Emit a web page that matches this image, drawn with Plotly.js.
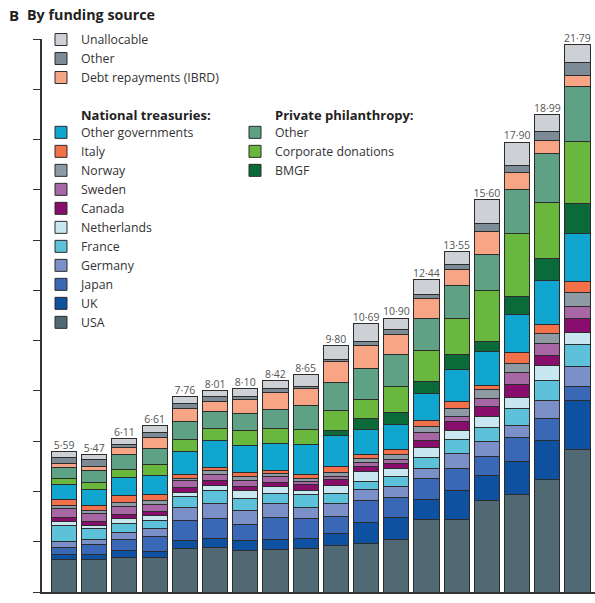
<!DOCTYPE html>
<html>
<head>
<meta charset="utf-8">
<script src="https://cdn.plot.ly/plotly-3.0.1.min.js"></script>
<style>
  html, body { margin: 0; padding: 0; background: #fff; }
  #chart { width: 595px; height: 603px; }
</style>
</head>
<body>
<div id="chart"></div>
<script>
// Development assistance for health, by funding source (US$ billions)
const years = [1990, 1991, 1992, 1993, 1994, 1995, 1996, 1997, 1998, 1999,
               2000, 2001, 2002, 2003, 2004, 2005, 2006, 2007];
const totals = [5.59, 5.47, 6.11, 6.61, 7.76, 8.01, 8.10, 8.42, 8.65, 9.80,
                10.69, 10.90, 12.44, 13.55, 15.60, 17.90, 18.99, 21.79];

// National treasuries
const usa         = [1.29, 1.29, 1.38, 1.36, 1.73, 1.77, 1.64, 1.68, 1.72, 1.87, 1.94, 2.10, 2.87, 2.87, 3.64, 3.89, 4.46, 5.68];
const uk          = [0.20, 0.20, 0.27, 0.26, 0.32, 0.37, 0.39, 0.41, 0.42, 0.45, 0.81, 0.87, 0.83, 1.16, 0.98, 1.32, 1.56, 1.93];
const japan       = [0.30, 0.40, 0.44, 0.57, 0.79, 0.79, 0.64, 0.88, 0.77, 0.68, 0.91, 0.80, 0.82, 0.89, 0.76, 0.93, 0.89, 0.58];
const germany     = [0.20, 0.20, 0.29, 0.32, 0.52, 0.59, 0.59, 0.56, 0.47, 0.53, 0.40, 0.42, 0.41, 0.60, 0.60, 0.49, 0.72, 0.80];
const france      = [0.67, 0.43, 0.33, 0.34, 0.42, 0.50, 0.47, 0.40, 0.48, 0.40, 0.33, 0.40, 0.43, 0.53, 0.57, 0.66, 0.80, 0.86];
const netherlands = [0.13, 0.12, 0.20, 0.18, 0.17, 0.21, 0.29, 0.26, 0.19, 0.30, 0.40, 0.33, 0.39, 0.39, 0.42, 0.46, 0.57, 0.46];
const canada      = [0.17, 0.17, 0.17, 0.18, 0.19, 0.20, 0.17, 0.16, 0.23, 0.23, 0.22, 0.21, 0.27, 0.33, 0.40, 0.51, 0.42, 0.57];
const sweden      = [0.36, 0.32, 0.34, 0.28, 0.28, 0.25, 0.25, 0.24, 0.11, 0.14, 0.16, 0.15, 0.32, 0.23, 0.33, 0.46, 0.47, 0.49];
const norway      = [0.13, 0.10, 0.14, 0.17, 0.09, 0.16, 0.15, 0.13, 0.13, 0.17, 0.15, 0.20, 0.24, 0.30, 0.36, 0.37, 0.39, 0.53];
const italy       = [0.25, 0.23, 0.26, 0.20, 0.16, 0.12, 0.16, 0.13, 0.14, 0.22, 0.16, 0.20, 0.23, 0.27, 0.17, 0.43, 0.38, 0.44];
const otherGovts  = [0.57, 0.61, 0.72, 0.78, 0.93, 1.06, 1.08, 1.06, 1.19, 1.22, 0.99, 0.99, 1.09, 1.28, 1.33, 1.52, 1.72, 1.94];

// Private philanthropy
const bmgf        = [0, 0, 0, 0, 0, 0, 0, 0, 0, 0.23, 0.44, 0.46, 0.49, 0.60, 0.39, 0.73, 0.87, 1.17];
const corporate   = [0.25, 0.28, 0.33, 0.44, 0.47, 0.48, 0.60, 0.60, 0.62, 0.80, 0.73, 1.04, 1.23, 1.43, 2.06, 2.50, 2.23, 2.49];
const otherPhil   = [0.45, 0.48, 0.61, 0.64, 0.70, 0.67, 0.68, 0.75, 0.93, 1.08, 1.27, 1.29, 1.26, 1.33, 1.43, 1.74, 1.96, 2.17];

// Remaining sources
const debtIBRD    = [0.15, 0.16, 0.25, 0.43, 0.52, 0.40, 0.53, 0.67, 0.70, 0.84, 0.91, 0.80, 0.78, 0.62, 0.92, 0.69, 0.53, 0.44];
const otherSrc    = [0.24, 0.27, 0.13, 0.21, 0.20, 0.20, 0.14, 0.16, 0.08, 0.10, 0.16, 0.17, 0.16, 0.18, 0.30, 0.26, 0.35, 0.53];
const unallocable = [0.23, 0.21, 0.25, 0.25, 0.27, 0.24, 0.32, 0.33, 0.47, 0.54, 0.71, 0.47, 0.62, 0.54, 0.94, 0.94, 0.67, 0.71];

// Stack order, bottom to top
const series = [
  { name: 'USA',                    values: usa,         color: '#506973', legend: 'legend2' },
  { name: 'UK',                     values: uk,          color: '#0d51a0', legend: 'legend2' },
  { name: 'Japan',                  values: japan,       color: '#3a68b6', legend: 'legend2' },
  { name: 'Germany',                values: germany,     color: '#7b90c9', legend: 'legend2' },
  { name: 'France',                 values: france,      color: '#5cc1d9', legend: 'legend2' },
  { name: 'Netherlands',            values: netherlands, color: '#c8e7f1', legend: 'legend2' },
  { name: 'Canada',                 values: canada,      color: '#880d6c', legend: 'legend2' },
  { name: 'Sweden',                 values: sweden,      color: '#a766a4', legend: 'legend2' },
  { name: 'Norway',                 values: norway,      color: '#8e9ba4', legend: 'legend2' },
  { name: 'Italy',                  values: italy,       color: '#f2714a', legend: 'legend2' },
  { name: 'Other governments',      values: otherGovts,  color: '#10a6d0', legend: 'legend2' },
  { name: 'BMGF',                   values: bmgf,        color: '#0b6a3a', legend: 'legend3' },
  { name: 'Corporate donations',    values: corporate,   color: '#69b73d', legend: 'legend3' },
  { name: 'Other',                  values: otherPhil,   color: '#5fa184', legend: 'legend3' },
  { name: 'Debt repayments (IBRD)', values: debtIBRD,    color: '#f8a586', legend: 'legend' },
  { name: 'Other',                  values: otherSrc,    color: '#7c8b95', legend: 'legend' },
  { name: 'Unallocable',            values: unallocable, color: '#cdd1d6', legend: 'legend' }
];

const traces = series.map(s => ({
  type: 'bar',
  x: years,
  y: s.values,
  name: s.name,
  legend: s.legend,
  marker: { color: s.color, line: { color: '#2c2c2c', width: 1 } },
  hovertemplate: s.name + ': %{y:.2f}<extra></extra>'
}));

// Totals written above each bar
traces.push({
  type: 'scatter',
  mode: 'text',
  x: years,
  y: totals,
  text: totals.map(v => v.toFixed(2).replace('.', '\u00b7')),
  textposition: 'top center',
  textfont: { size: 10.5, color: '#555' },
  cliponaxis: false,
  showlegend: false,
  hoverinfo: 'skip'
});

// Plot frame in pixels, and helpers that turn pixel spots into paper coordinates
const plotL = 42, plotR = 595, plotT = 38.5, plotB = 592.5;
const px = v => (v - plotL) / (plotR - plotL);
const py = v => (plotB - v) / (plotB - plotT);

const legendBase = {
  xanchor: 'left', yanchor: 'top',
  traceorder: 'reversed',
  bgcolor: 'rgba(0,0,0,0)',
  borderwidth: 0,
  tracegroupgap: 0,
  font: { size: 12.3, color: '#333' },
  itemclick: false, itemdoubleclick: false
};

const layout = {
  width: 595, height: 603,
  margin: { l: plotL, r: 595 - plotR, t: plotT, b: 603 - plotB, pad: 0 },
  barmode: 'stack',
  bargap: 0.17,
  paper_bgcolor: '#fff',
  plot_bgcolor: '#fff',
  font: { family: '"Open Sans", "Noto Sans", sans-serif', color: '#333' },
  xaxis: {
    range: [1989.27, 2007.58],
    showticklabels: false, ticks: '',
    showgrid: false, zeroline: false,
    showline: true, linecolor: '#333', linewidth: 1.5
  },
  yaxis: {
    range: [0, 22], tick0: 0, dtick: 2,
    ticks: 'outside', ticklen: 7, tickwidth: 1.2, tickcolor: '#333',
    showticklabels: false,
    showgrid: false, zeroline: false,
    showline: true, linecolor: '#333', linewidth: 1.5
  },
  legend:  Object.assign({}, legendBase, { x: px(41),  y: py(24.5) }),
  legend2: Object.assign({}, legendBase, { x: px(41),  y: py(117.5) }),
  legend3: Object.assign({}, legendBase, { x: px(235), y: py(117.5) }),
  annotations: [
    { text: '<b>B</b>', xref: 'paper', yref: 'paper', x: px(7), y: py(14),
      xanchor: 'left', yanchor: 'middle', showarrow: false,
      font: { size: 15, color: '#222' } },
    { text: '<b>By funding source</b>', xref: 'paper', yref: 'paper', x: px(25), y: py(14),
      xanchor: 'left', yanchor: 'middle', showarrow: false,
      font: { size: 14.3, color: '#222' } },
    { text: '<b>National treasuries:</b>', xref: 'paper', yref: 'paper', x: px(79), y: py(115),
      xanchor: 'left', yanchor: 'middle', showarrow: false,
      font: { size: 13, color: '#222' } },
    { text: '<b>Private philanthropy:</b>', xref: 'paper', yref: 'paper', x: px(273), y: py(115),
      xanchor: 'left', yanchor: 'middle', showarrow: false,
      font: { size: 13, color: '#222' } }
  ]
};

Plotly.newPlot('chart', traces, layout, { displayModeBar: false });
</script>
</body>
</html>
